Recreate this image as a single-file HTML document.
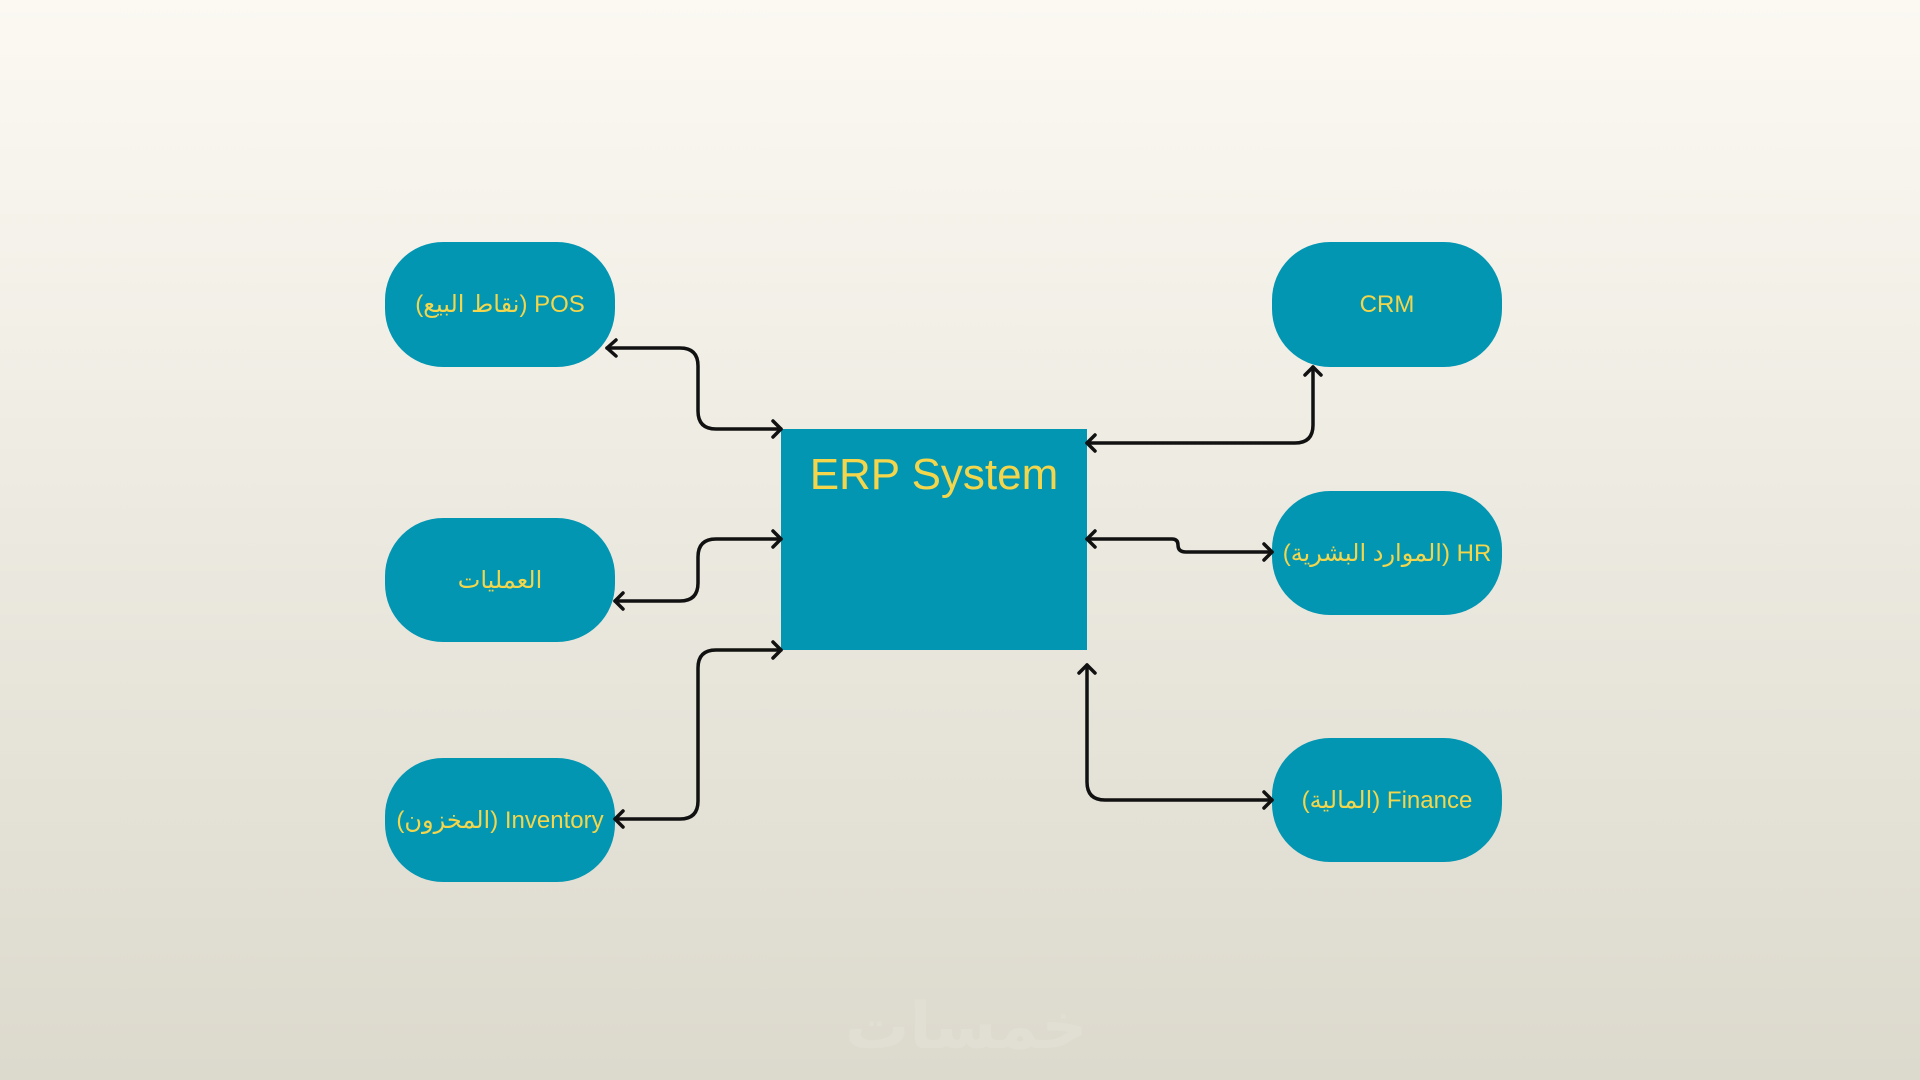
<!DOCTYPE html>
<html><head><meta charset="utf-8"><style>
html,body{margin:0;padding:0}
body{width:1920px;height:1080px;position:relative;overflow:hidden;background:linear-gradient(#fbf9f2,#dcd9cd);font-family:"Liberation Sans","DejaVu Sans","Noto Sans CJK SC",sans-serif}
.b{position:absolute;background:#0396b3;border-radius:58px;color:#f3d64c;font-size:24px;display:flex;align-items:center;justify-content:center;white-space:nowrap}
#erp{position:absolute;left:781px;top:429px;width:306px;height:221px;background:#0396b3;color:#f3d64c;font-size:44px;text-align:center;line-height:92px}
svg{position:absolute;left:0;top:0}
.wm{position:absolute;left:845px;top:990px;width:230px;text-align:center;font-size:64px;font-weight:bold;color:#e1ded3;font-family:"DejaVu Sans",sans-serif}
</style></head><body>
<div class="b" style="left:385px;top:242px;width:230px;height:125px"><span>(نقاط البيع)</span>&nbsp;<span>POS</span></div>
<div class="b" style="left:385px;top:518px;width:230px;height:124px">العمليات</div>
<div class="b" style="left:385px;top:758px;width:230px;height:124px">(المخزون) Inventory</div>
<div class="b" style="left:1272px;top:242px;width:230px;height:125px">CRM</div>
<div class="b" style="left:1272px;top:491px;width:230px;height:124px">(الموارد البشرية) HR</div>
<div class="b" style="left:1272px;top:738px;width:230px;height:124px">(المالية) Finance</div>
<div id="erp">ERP System</div>
<div class="wm">خمسات</div>
<svg width="1920" height="1080" fill="none" stroke="#111" stroke-width="3.5" stroke-linecap="round" stroke-linejoin="round">
<path d="M607 348 H680 Q698 348 698 366 V411 Q698 429 716 429 H781"/>
<path d="M616 340 L607 348 L616 356 M773 421 L781 429 L773 437"/>
<path d="M781 539 H716 Q698 539 698 557 V583 Q698 601 680 601 H615"/>
<path d="M773 531 L781 539 L773 547 M623 593 L615 601 L623 609"/>
<path d="M781 650 H716 Q698 650 698 668 V801 Q698 819 680 819 H615"/>
<path d="M773 642 L781 650 L773 658 M623 811 L615 819 L623 827"/>
<path d="M1087 443 H1295 Q1313 443 1313 425 V367"/>
<path d="M1095 435 L1087 443 L1095 451 M1305 375 L1313 367 L1321 375"/>
<path d="M1087 539 H1172 Q1178 539 1178 545 Q1178 552 1186 552 H1272"/>
<path d="M1095 531 L1087 539 L1095 547 M1264 544 L1272 552 L1264 560"/>
<path d="M1087 665 V782 Q1087 800 1105 800 H1272"/>
<path d="M1079 673 L1087 665 L1095 673 M1264 792 L1272 800 L1264 808"/>
</svg>
</body></html>
